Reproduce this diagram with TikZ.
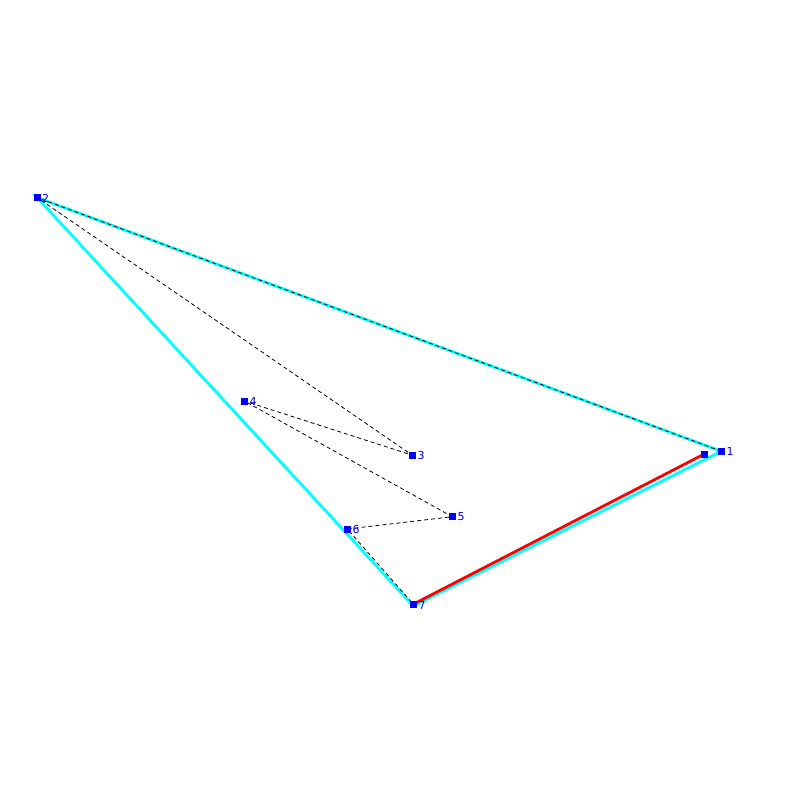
\documentclass[tikz,border=0pt]{standalone}
\usepackage{fontspec}
\setmainfont{DejaVu Sans}
\begin{document}
\begin{tikzpicture}[x=1pt,y=-1pt,
  pt/.style={fill={rgb,255:red,0;green,0;blue,255},draw=none,minimum size=7pt,inner sep=0pt,outer sep=0pt},
  lbl/.style={text={rgb,255:red,0;green,0;blue,255},font=\fontsize{11}{11}\selectfont,inner sep=0pt,anchor=west},
  hull/.style={draw={rgb,255:red,0;green,255;blue,255},line width=2.8pt},
  chain/.style={draw=black,line width=0.8pt,dash pattern=on 4pt off 3pt},
  redl/.style={draw={rgb,255:red,255;green,0;blue,0},line width=2.8pt}]
\useasboundingbox (0,0) rectangle (800,800);
\coordinate (c1) at (721.3,451.3);
\coordinate (c2) at (37,197.5);
\coordinate (c3) at (412.3,455.2);
\coordinate (c4) at (244.3,401);
\coordinate (c5) at (452.3,516.7);
\coordinate (c6) at (347.3,529);
\coordinate (c7) at (413.3,604.2);
\coordinate (cx) at (704.3,454);
\coordinate (c7b) at (413.3,606);
% hull
\draw[hull] (c2) -- (c1) -- (c7b) -- cycle;
% red segment
\draw[redl] (c7) -- (cx);
% dashed chain
\draw[chain] (c1) -- (c2) -- (c3) -- (c4) -- (c5) -- (c6) -- (c7);
% points
\node[pt] (p1) at (c1) {};
\node[pt] (p2) at (c2) {};
\node[pt] (p3) at (c3) {};
\node[pt] (p4) at (c4) {};
\node[pt] (p5) at (c5) {};
\node[pt] (p6) at (c6) {};
\node[pt] (p7) at (c7) {};
\node[pt] (px) at (cx) {};
\node[lbl] (l1) at ([xshift=5pt]c1) {1};
\node[lbl] (l2) at ([xshift=5pt,yshift=-1pt]c2) {2};
\node[lbl] (l3) at ([xshift=5pt]c3) {3};
\node[lbl] (l4) at ([xshift=5pt]c4) {4};
\node[lbl] (l5) at ([xshift=5pt]c5) {5};
\node[lbl] (l6) at ([xshift=5pt]c6) {6};
\node[lbl] (l7) at ([xshift=5pt,yshift=-1pt]c7) {7};
\end{tikzpicture}
\end{document}
